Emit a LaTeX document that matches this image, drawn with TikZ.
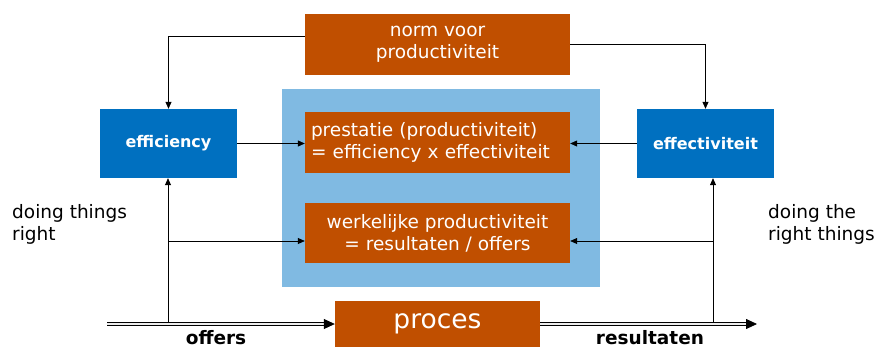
\documentclass[tikz,border=0pt]{standalone}
\usepackage{fontspec}
\setmainfont{DejaVu Sans}
\usetikzlibrary{arrows.meta}
\definecolor{rust}{RGB}{192,79,0}
\definecolor{deepblue}{RGB}{0,112,192}
\definecolor{paleblue}{RGB}{128,186,226}
\newcommand{\txt}{\fontsize{18.5}{22}\selectfont}
\begin{document}
\begin{tikzpicture}[x=1pt,y=-1pt,
    rustbox/.style={fill=rust,text=white,inner sep=0pt,font=\txt,align=center},
    bluebox/.style={fill=deepblue,text=white,inner sep=0pt,minimum width=137pt,
      minimum height=69pt,font=\fontsize{16}{18}\selectfont\bfseries},
    link/.style={line width=0.7pt,-{Triangle[length=7pt,width=6pt]}},
    flow/.style={line width=0.8pt,double=gray!15,double distance=1.8pt,
      -{Triangle[length=11pt,width=10pt]}},
    note/.style={font=\txt,align=left,inner sep=0pt}]
  \useasboundingbox (0,0) rectangle (879,349);
  \fill[paleblue] (282,89) rectangle (600,287);
  \node[rustbox,minimum width=265pt,minimum height=61pt] (norm) at (437.5,44.5)
    {norm voor\\productiviteit};
  \node[rustbox,minimum width=265pt,minimum height=61pt,align=left,
    text width=253pt] (prest) at (437.5,142.5)
    {prestatie (productiviteit)\\= efficiency x effectiviteit};
  \node[rustbox,minimum width=265pt,minimum height=60pt] (werk) at (437.5,233)
    {werkelijke productiviteit\\= resultaten / offers};
  \node[rustbox,minimum width=205pt,minimum height=46pt,
    font=\fontsize{26.5}{30}\selectfont] (proc) at (437.5,324) {proces};
  \node[bluebox] (effic) at (168.5,143.5) {efficiency};
  \node[bluebox] (effect) at (705.5,143.5) {effectiviteit};
  \node[note,anchor=west] (left) at (12,224) {doing things\\right};
  \node[note,anchor=west] (right) at (768,224) {doing the\\right things};
  \node[font=\fontsize{18.5}{20}\selectfont\bfseries] (off) at (216,338) {offers};
  \node[font=\fontsize{18.5}{20}\selectfont\bfseries] (res) at (650,338) {resultaten};
  \coordinate (in) at (107,324);
  \coordinate (out) at (757,324);
  \coordinate (ltap) at (168,324);
  \coordinate (lmid) at (168,241);
  \coordinate (rtap) at (713,324);
  \coordinate (rmid) at (713,241);
  % main flow
  \draw[flow] (in) -- (proc);
  \draw[flow] (proc) -- (out);
  % norms
  \draw[link] ([yshift=8.5pt]norm.west) -| (effic.north);
  \draw[link] (norm.east) -| (effect.north);
  \draw[link] (effic.east) -- (effic.east -| prest.west);
  \draw[link] (effect.west) -- (effect.west -| prest.east);
  % feedback from the flow
  \draw[link] ([yshift=1.7pt]ltap) -- (ltap |- effic.south);
  \draw[link] (lmid) -- (lmid -| werk.west);
  \draw[link] ([yshift=1.7pt]rtap) -- (rtap |- effect.south);
  \draw[link] (rmid) -- (rmid -| werk.east);
\end{tikzpicture}
\end{document}
